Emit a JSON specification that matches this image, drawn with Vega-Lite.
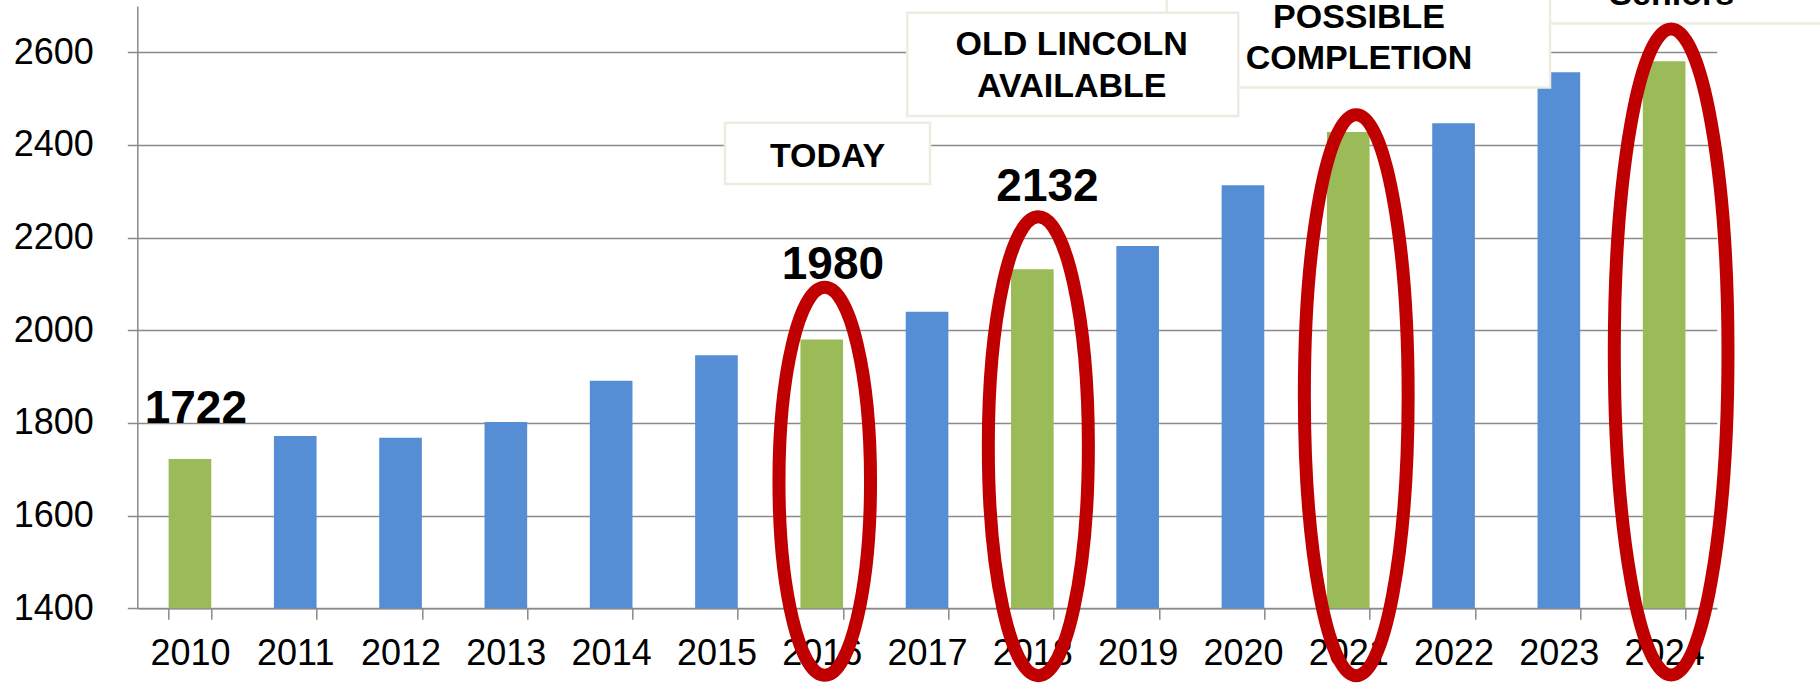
{
  "$schema": "https://vega.github.io/schema/vega-lite/v6.json",
  "width": 1579.5,
  "height": 602.3,
  "autosize": {"type": "none"},
  "padding": {"left": 137.3, "top": 6, "right": 103.2, "bottom": 74.7},
  "background": "white",
  "config": {
    "view": {"stroke": null},
    "font": "Liberation Sans"
  },
  "datasets": {
    "enrollment": [
      {"year": "2010", "students": 1722},
      {"year": "2011", "students": 1772},
      {"year": "2012", "students": 1768},
      {"year": "2013", "students": 1802},
      {"year": "2014", "students": 1891},
      {"year": "2015", "students": 1946},
      {"year": "2016", "students": 1980},
      {"year": "2017", "students": 2040},
      {"year": "2018", "students": 2132},
      {"year": "2019", "students": 2182},
      {"year": "2020", "students": 2313},
      {"year": "2021", "students": 2428},
      {"year": "2022", "students": 2447},
      {"year": "2023", "students": 2557},
      {"year": "2024", "students": 2581}
    ],
    "boxes": [
      {"box": "Seniors", "x0": 2021.49, "x1": 2025.8, "y0": 2662.4, "y1": 2850},
      {"box": "POSSIBLE COMPLETION", "x0": 2019.276, "x1": 2022.916, "y0": 2524.3, "y1": 2780},
      {"box": "OLD LINCOLN AVAILABLE", "x0": 2016.812, "x1": 2019.956, "y0": 2462.4, "y1": 2685.3},
      {"box": "TODAY", "x0": 2015.081, "x1": 2017.028, "y0": 2315.6, "y1": 2447.9}
    ],
    "boxlabels": [
      {"label": "TODAY", "x": 2016.055, "y": 2353},
      {"label": "OLD LINCOLN", "x": 2018.374, "y": 2594},
      {"label": "AVAILABLE", "x": 2018.374, "y": 2504},
      {"label": "POSSIBLE", "x": 2021.102, "y": 2652},
      {"label": "COMPLETION", "x": 2021.102, "y": 2565},
      {"label": "Seniors", "x": 2024.072, "y": 2702}
    ],
    "valuelabels": [
      {"label": "1722", "x": 2010.056, "y": 1801},
      {"label": "1980", "x": 2016.106, "y": 2110},
      {"label": "2132", "x": 2018.144, "y": 2279}
    ],
    "circles": [
      {"year": 2016, "center": 1674},
      {"year": 2018, "center": 1750},
      {"year": 2021, "center": 1860},
      {"year": 2024, "center": 1953}
    ]
  },
  "resolve": {"scale": {"x": "independent"}},
  "layer": [
    {
      "data": {"name": "enrollment"},
      "mark": {"type": "bar"},
      "encoding": {
        "x": {
          "field": "year",
          "type": "ordinal",
          "scale": {"paddingInner": 0.595, "paddingOuter": 0.2975},
          "axis": {
            "title": null,
            "labelAngle": 0,
            "labelFontSize": 36,
            "labelColor": "#000000",
            "labelPadding": 17,
            "tickSize": 11,
            "tickBand": "extent",
            "tickColor": "#8a8a8a",
            "tickWidth": 1.5,
            "domainColor": "#8a8a8a",
            "domainWidth": 1.5,
            "grid": false
          }
        },
        "y": {
          "field": "students",
          "type": "quantitative",
          "scale": {"domain": [1400, 2700], "nice": false, "zero": false},
          "axis": {
            "title": null,
            "format": "d",
            "values": [1400, 1600, 1800, 2000, 2200, 2400, 2600],
            "labelFontSize": 36,
            "labelColor": "#000000",
            "labelPadding": 34,
            "tickSize": 10,
            "tickColor": "#8a8a8a",
            "tickWidth": 1.5,
            "domainColor": "#8a8a8a",
            "domainWidth": 1.5,
            "grid": true,
            "gridColor": "#8a8a8a",
            "gridWidth": 1.5
          }
        },
        "y2": {"datum": 1400},
        "color": {
          "condition": {
            "test": "datum.year == '2010' || datum.year == '2016' || datum.year == '2018' || datum.year == '2021' || datum.year == '2024'",
            "value": "#9BBB59"
          },
          "value": "#558ED5"
        }
      }
    },
    {
      "layer": [
        {
          "data": {"name": "boxes"},
          "mark": {"type": "rect", "fill": "#ffffff", "stroke": "#EEECE1", "strokeWidth": 2.5},
          "encoding": {
            "x": {"field": "x0", "type": "quantitative", "scale": {"domain": [2009.5, 2024.5], "nice": false, "zero": false}, "axis": null},
            "x2": {"field": "x1"},
            "y": {"field": "y0", "type": "quantitative"},
            "y2": {"field": "y1"}
          }
        },
        {
          "data": {"name": "boxlabels"},
          "mark": {"type": "text", "font": "Liberation Sans", "fontWeight": "bold", "fontSize": 34, "color": "#000000", "align": "center", "baseline": "alphabetic"},
          "encoding": {
            "x": {"field": "x", "type": "quantitative"},
            "y": {"field": "y", "type": "quantitative"},
            "text": {"field": "label"}
          }
        },
        {
          "data": {"name": "valuelabels"},
          "mark": {"type": "text", "font": "Liberation Sans", "fontWeight": "bold", "fontSize": 46, "color": "#000000", "align": "center", "baseline": "alphabetic"},
          "encoding": {
            "x": {"field": "x", "type": "quantitative"},
            "y": {"field": "y", "type": "quantitative"},
            "text": {"field": "label"}
          }
        },
        {
          "data": {"name": "circles"},
          "transform": [{"filter": "datum.year == 2016"}],
          "mark": {"type": "point", "filled": false, "opacity": 1, "stroke": "#C00000", "strokeWidth": 13, "xOffset": 3, "size": 150544,
            "shape": "M0,-1C0.1303,-1 0.236,-0.5523 0.236,0C0.236,0.5523 0.1303,1 0,1C-0.1303,1 -0.236,0.5523 -0.236,0C-0.236,-0.5523 -0.1303,-1 0,-1Z"},
          "encoding": {
            "x": {"field": "year", "type": "quantitative"},
            "y": {"field": "center", "type": "quantitative"}
          }
        },
        {
          "data": {"name": "circles"},
          "transform": [{"filter": "datum.year == 2018"}],
          "mark": {"type": "point", "filled": false, "opacity": 1, "stroke": "#C00000", "strokeWidth": 13, "xOffset": 6, "size": 210681,
            "shape": "M0,-1C0.1204,-1 0.218,-0.5523 0.218,0C0.218,0.5523 0.1204,1 0,1C-0.1204,1 -0.218,0.5523 -0.218,0C-0.218,-0.5523 -0.1204,-1 0,-1Z"},
          "encoding": {
            "x": {"field": "year", "type": "quantitative"},
            "y": {"field": "center", "type": "quantitative"}
          }
        },
        {
          "data": {"name": "circles"},
          "transform": [{"filter": "datum.year == 2021"}],
          "mark": {"type": "point", "filled": false, "opacity": 1, "stroke": "#C00000", "strokeWidth": 13, "xOffset": 8, "size": 314721,
            "shape": "M0,-1C0.1022,-1 0.185,-0.5523 0.185,0C0.185,0.5523 0.1022,1 0,1C-0.1022,1 -0.185,0.5523 -0.185,0C-0.185,-0.5523 -0.1022,-1 0,-1Z"},
          "encoding": {
            "x": {"field": "year", "type": "quantitative"},
            "y": {"field": "center", "type": "quantitative"}
          }
        },
        {
          "data": {"name": "circles"},
          "transform": [{"filter": "datum.year == 2024"}],
          "mark": {"type": "point", "filled": false, "opacity": 1, "stroke": "#C00000", "strokeWidth": 13, "xOffset": 7, "size": 417316,
            "shape": "M0,-1C0.0972,-1 0.176,-0.5523 0.176,0C0.176,0.5523 0.0972,1 0,1C-0.0972,1 -0.176,0.5523 -0.176,0C-0.176,-0.5523 -0.0972,-1 0,-1Z"},
          "encoding": {
            "x": {"field": "year", "type": "quantitative"},
            "y": {"field": "center", "type": "quantitative"}
          }
        }
      ]
    }
  ]
}
